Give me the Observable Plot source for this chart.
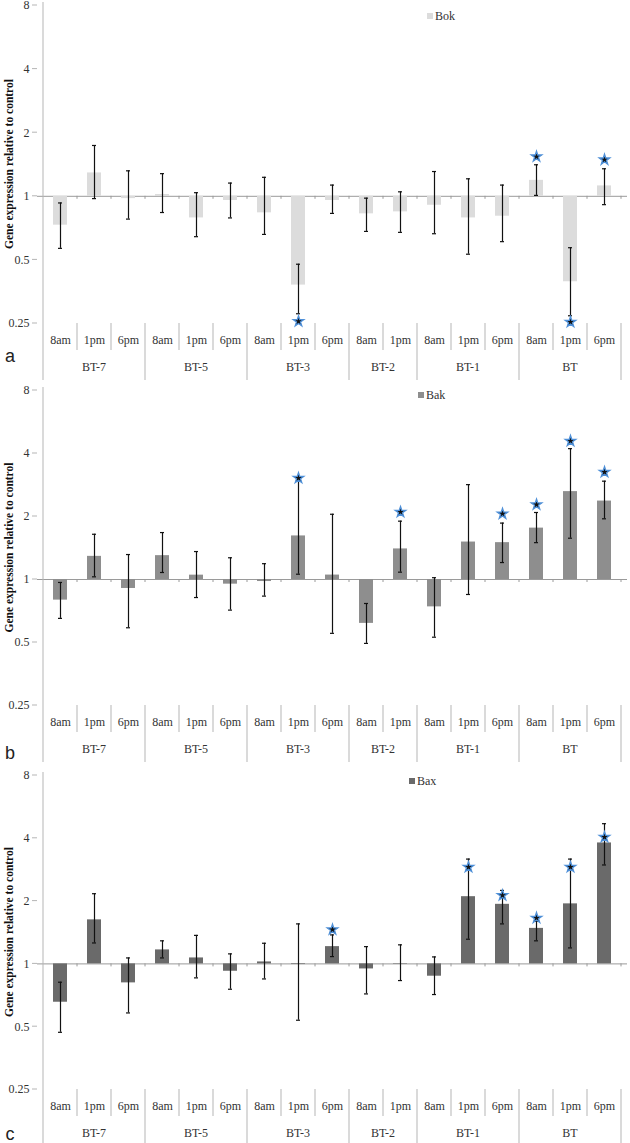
<!DOCTYPE html>
<html><head><meta charset="utf-8">
<script src="https://cdn.jsdelivr.net/npm/d3@7"></script>
<script src="https://cdn.jsdelivr.net/npm/@observablehq/plot@0.6"></script>
<style>
body{margin:0;background:#fff;width:630px;height:1143px;overflow:hidden}
#chart svg{display:block;font-family:"Liberation Serif","Times New Roman",serif}
</style></head><body><div id="chart"></div>
<script>
// ---- data ----
const groups = ["BT-7", "BT-5", "BT-3", "BT-2", "BT-1", "BT"];
const groupTimes = [["8am","1pm","6pm"],["8am","1pm","6pm"],["8am","1pm","6pm"],["8am","1pm"],["8am","1pm","6pm"],["8am","1pm","6pm"]];
const yTicks = [0.25, 0.5, 1, 2, 4, 8];
const yLabel = "Gene expression relative to control";

const bokValues = [0.73, 1.29, 0.975, 1.02, 0.79, 0.955, 0.835, 0.38, 0.955, 0.826, 0.844, 0.907, 0.79, 0.805, 1.19, 0.394, 1.12];
const bokHigh   = [0.93, 1.74, 1.32, 1.28, 1.04, 1.155, 1.23, 0.477, 1.13, 0.98, 1.05, 1.31, 1.21, 1.13, 1.41, 0.571, 1.35];
const bokLow    = [0.567, 0.975, 0.78, 0.838, 0.644, 0.79, 0.66, 0.278, 0.83, 0.682, 0.675, 0.665, 0.532, 0.61, 1.01, 0.272, 0.913];
const bokStars  = [null, null, null, null, null, null, null, 0.256, null, null, null, null, null, null, 1.54, 0.254, 1.49];

const bakValues = [0.797, 1.29, 0.906, 1.30, 1.049, 0.95, 0.978, 1.615, 1.05, 0.617, 1.40, 0.74, 1.51, 1.50, 1.76, 2.63, 2.37];
const bakHigh   = [0.968, 1.645, 1.316, 1.676, 1.36, 1.27, 1.19, 2.98, 2.05, 0.768, 1.90, 1.02, 2.84, 1.86, 2.09, 4.22, 2.95];
const bakLow    = [0.652, 1.03, 0.588, 1.08, 0.82, 0.714, 0.833, 1.06, 0.553, 0.495, 1.084, 0.53, 0.848, 1.205, 1.50, 1.575, 1.95];
const bakStars  = [null, null, null, null, null, null, null, 3.05, null, null, 2.10, null, null, 2.06, 2.28, 4.59, 3.26];

const baxValues = [0.655, 1.626, 0.811, 1.167, 1.068, 0.922, 1.022, 0.993, 1.21, 0.946, 0.995, 0.873, 2.10, 1.93, 1.48, 1.94, 3.80];
const baxHigh   = [0.817, 2.17, 1.068, 1.29, 1.37, 1.117, 1.256, 1.555, 1.377, 1.21, 1.234, 1.08, 3.18, 2.25, 1.60, 3.18, 4.70];
const baxLow    = [0.47, 1.26, 0.582, 1.068, 0.857, 0.756, 0.847, 0.537, 1.084, 0.718, 0.832, 0.713, 1.313, 1.555, 1.29, 1.193, 2.98];
const baxStars  = [null, null, null, null, null, null, null, null, 1.46, null, null, null, 2.91, 2.13, 1.66, 2.91, 4.05];

const panels = [
  {letter: "a", gene: "Bok", fill: "#dcdcdc", values: bokValues, high: bokHigh, low: bokLow, stars: bokStars,
   top: 5, bottom: 323, legendX: 430, legendY: 16, letterY: 356},
  {letter: "b", gene: "Bak", fill: "#8e8e8e", values: bakValues, high: bakHigh, low: bakLow, stars: bakStars,
   top: 5, bottom: 320, legendX: 421, legendY: 10, letterY: 368},
  {letter: "c", gene: "Bax", fill: "#6a6a6a", values: baxValues, high: baxHigh, low: baxLow, stars: baxStars,
   top: 5, bottom: 319, legendX: 412, legendY: 11, letterY: 364}
];

// ---- build ----
const cats = [];
groups.forEach((g, i) => groupTimes[i].forEach(t => cats.push({key: g + "|" + t, group: g, time: t})));
const W = 630, H = 385;
const serif = "Liberation Serif, Times New Roman, serif";
const chart = document.getElementById("chart");

panels.forEach(p => {
  const data = cats.map((c, i) => ({...c, v: p.values[i], hi: p.high[i], lo: p.low[i], star: p.stars[i], base: 1}));
  const plot = Plot.plot({
    width: W, height: H,
    marginLeft: 37, marginRight: 3, marginTop: p.top, marginBottom: H - p.bottom,
    style: {fontFamily: serif, fontSize: "12px", color: "#333", background: "#fff", overflow: "visible"},
    x: {type: "band", domain: cats.map(c => c.key), paddingInner: 0.58, paddingOuter: 0.29, axis: null},
    y: {type: "log", domain: [0.25, 8], axis: null},
    marks: [
      Plot.ruleY([1], {stroke: "#9a9a9a", strokeWidth: 1}),
      Plot.barY(data, {x: "key", y1: "base", y2: "v", fill: p.fill}),
      Plot.ruleX(data, {x: "key", y1: "lo", y2: "hi", stroke: "#111", strokeWidth: 1.2}),
      Plot.tickY(data, {x: "key", y: "hi", stroke: "#111", strokeWidth: 1.2, insetLeft: 5, insetRight: 5}),
      Plot.tickY(data, {x: "key", y: "lo", stroke: "#111", strokeWidth: 1.2, insetLeft: 5, insetRight: 5}),
      Plot.dot(data.filter(d => d.star != null), {x: "key", y: "star", symbol: "star", r: 3.3, fill: "#111", stroke: "#4f90d8", strokeWidth: 1.3}),
      Plot.text(yTicks, {y: d => d, text: d => String(d), frameAnchor: "left", textAnchor: "end", dx: -8, fill: "#333", fontSize: 12, fontFamily: serif}),
      Plot.axisX({tickSize: 0, tickPadding: 12, tickFormat: k => k.split("|")[1], fill: "#333", label: null, fontSize: 12, fontFamily: serif})
    ]
  });

  const svg = d3.select(plot).attr("font-family", serif);
  const xs = plot.scale("x");
  const ys = plot.scale("y");
  const bw = xs.bandwidth;
  const step = xs.apply(cats[1].key) - xs.apply(cats[0].key);
  const leftEdge = k => xs.apply(k) + bw / 2 - step / 2;
  const rightEdge = k => xs.apply(k) + bw / 2 + step / 2;
  const y1 = ys.apply(1);
  const deco = svg.append("g").attr("stroke", "#b5b5b5").attr("stroke-width", 1);

  // y-axis ticks (short lines left of the axis)
  yTicks.forEach(t => {
    const yy = ys.apply(t);
    deco.append("line").attr("x1", 32).attr("x2", 37).attr("y1", yy).attr("y2", yy);
  });

  // small ticks on the baseline and time separators
  cats.forEach((c, i) => {
    const xe = leftEdge(c.key);
    if (i > 0) deco.append("line").attr("x1", xe).attr("x2", xe).attr("y1", y1).attr("y2", y1 + 3).attr("stroke", "#9a9a9a");
    const first = i === 0 || cats[i - 1].group !== c.group;
    if (!first) deco.append("line").attr("x1", xe).attr("x2", xe).attr("y1", p.bottom).attr("y2", p.bottom + 27);
  });
  const lastKey = cats[cats.length - 1].key;
  deco.append("line").attr("x1", rightEdge(lastKey)).attr("x2", rightEdge(lastKey)).attr("y1", y1).attr("y2", y1 + 3).attr("stroke", "#9a9a9a");

  // group separators, group labels
  const tg = svg.append("g").attr("font-family", serif).attr("font-size", 12).attr("fill", "#333").attr("text-anchor", "middle");
  groups.forEach((g, gi) => {
    const members = cats.filter(c => c.group === g);
    const x0 = leftEdge(members[0].key), x1 = rightEdge(members[members.length - 1].key);
    deco.append("line").attr("x1", x0).attr("x2", x0).attr("y1", gi === 0 ? p.top - 3 : p.bottom).attr("y2", p.bottom + 57);
    tg.append("text").attr("x", (x0 + x1) / 2).attr("y", p.bottom + 44).attr("dy", "0.35em").text(g);
  });
  deco.append("line").attr("x1", rightEdge(lastKey)).attr("x2", rightEdge(lastKey)).attr("y1", p.bottom).attr("y2", p.bottom + 57);

  // y label
  svg.append("text").attr("transform", `translate(9,${(p.top + p.bottom) / 2}) rotate(-90)`)
    .attr("text-anchor", "middle").attr("dy", "0.35em").attr("font-family", serif)
    .attr("font-weight", "bold").attr("font-size", 11.5).attr("fill", "#111").text(yLabel);

  // legend
  svg.append("rect").attr("x", p.legendX - 3).attr("y", p.legendY - 3).attr("width", 6).attr("height", 6).attr("fill", p.fill);
  svg.append("text").attr("x", p.legendX + 5).attr("y", p.legendY).attr("dy", "0.35em").attr("text-anchor", "start")
    .attr("font-family", serif).attr("font-size", 12).attr("fill", "#333").text(p.gene);

  // panel letter
  svg.append("text").attr("x", 10).attr("y", p.letterY).attr("dy", "0.35em").attr("text-anchor", "middle")
    .attr("font-family", "Liberation Sans, Arial, sans-serif").attr("font-size", 18).attr("fill", "#222").text(p.letter);

  chart.appendChild(plot);
});
</script>
</body></html>
